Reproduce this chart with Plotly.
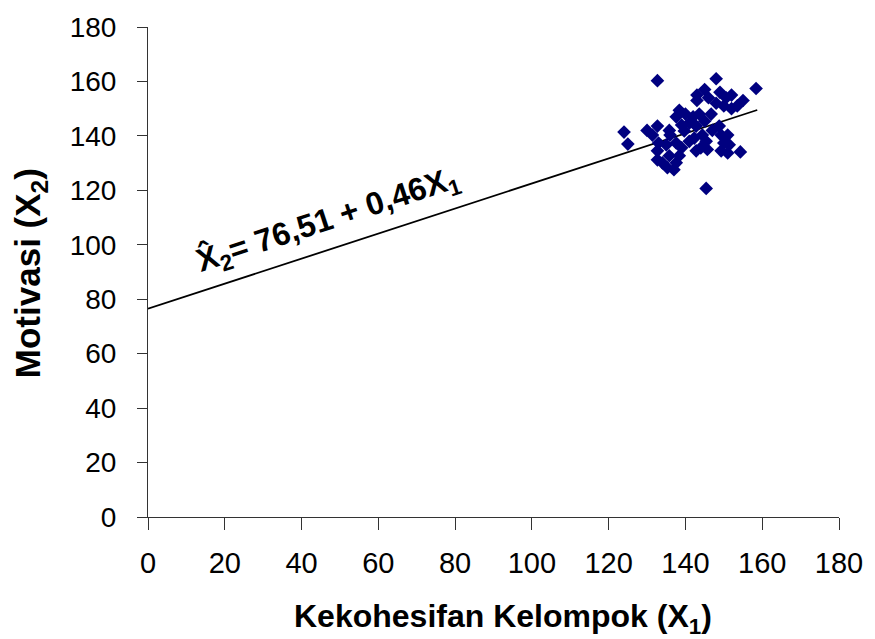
import plotly.graph_objects as go

# Kekohesifan Kelompok (X1) vs Motivasi (X2) observations
x1 = [132.7, 148.0, 158.4, 124.0, 125.0, 145.4, 154.3,
      145.0, 146.0, 143.0, 143.0, 149.0, 152.0, 150.6, 155.0, 153.5,
      148.0, 150.0, 146.7, 152.0, 138.4, 140.0, 142.0, 143.6, 137.6,
      130.0, 132.7, 131.4, 136.0, 139.0, 141.0, 142.8, 145.0, 139.7,
      142.3, 144.4, 147.0, 148.8, 149.3, 151.0, 150.0, 151.4, 149.3,
      151.0, 145.4, 145.7, 142.8, 144.0, 133.0, 135.0, 137.6, 132.7,
      132.7, 134.0, 135.3, 137.0, 137.6, 138.4, 135.8, 139.0, 141.0,
      135.8]
x2 = [160.3, 161.0, 157.4, 141.4, 137.0, 120.7, 134.1,
      157.0, 154.0, 155.0, 153.0, 156.0, 155.0, 154.0, 153.0, 151.0,
      152.0, 151.0, 148.0, 150.0, 149.4, 148.0, 147.0, 148.0, 147.0,
      142.0, 143.6, 140.3, 140.3, 144.0, 144.7, 143.6, 145.4, 141.8,
      139.2, 140.3, 142.0, 143.6, 140.3, 140.3, 137.4, 136.7, 134.5,
      133.7, 138.0, 135.0, 134.5, 135.6, 137.4, 136.7, 137.4, 134.5,
      131.2, 130.1, 128.3, 127.6, 130.1, 132.7, 132.7, 135.6, 138.0,
      142.0]

# Fitted regression X2 = a + b * X1
intercept = 76.51
slope = 0.46
fit_x = [0, 158.7]
fit_y = [intercept + slope * v for v in fit_x]

x_ticks = list(range(0, 181, 20))
y_ticks = list(range(0, 181, 20))

font_family = "Liberation Sans, Arial, sans-serif"

fig = go.Figure()
fig.add_trace(go.Scatter(
    x=fit_x, y=fit_y, mode="lines",
    line=dict(color="black", width=1.8),
    hoverinfo="skip", showlegend=False,
))
fig.add_trace(go.Scatter(
    x=x1, y=x2, mode="markers",
    marker=dict(symbol="diamond", size=10.5, color="#000080",
                line=dict(width=0)),
    showlegend=False,
))

# regression equation written along the fitted line
fig.add_annotation(
    x=47.0, y=109, xref="x", yref="y",
    text="<b>X\u0302<sub>2</sub>= 76,51 + 0,46X<sub>1</sub></b>",
    textangle=-18.2, showarrow=False,
    font=dict(family=font_family, size=32, color="black"),
    xanchor="center", yanchor="middle",
)

# axis titles
fig.add_annotation(
    x=504, y=639 - 619, xref="paper", yref="paper",
    text="<b>Kekohesifan Kelompok (X<sub>1</sub>)</b>",
    showarrow=False,
    font=dict(family=font_family, size=32, color="black"),
    xanchor="center", yanchor="middle",
)
fig.add_annotation(
    x=30, y=639 - 271, xref="paper", yref="paper",
    text="<b>Motivasi (X<sub>2</sub>)</b>",
    textangle=-90, showarrow=False,
    font=dict(family=font_family, size=35, color="black"),
    xanchor="center", yanchor="middle",
)

axis_common = dict(
    showgrid=False, zeroline=False, showline=True,
    linecolor="#333333", linewidth=1,
    ticks="outside", tickcolor="#333333", tickwidth=1,
)

fig.update_xaxes(
    range=[0, 180], tickvals=x_ticks, ticklen=12,
    tickfont=dict(family=font_family, size=29, color="black"),
    ticklabelstandoff=8,
    **axis_common,
)
fig.update_yaxes(
    range=[0, 180], tickvals=y_ticks, ticklen=10,
    tickfont=dict(family=font_family, size=28, color="black"),
    ticklabelstandoff=15,
    **axis_common,
)

fig.update_layout(
    width=875, height=639,
    margin=dict(l=148, r=35, t=23, b=122),
    paper_bgcolor="white", plot_bgcolor="white",
)

# annotation coordinates given in pixels are converted to paper fractions
plot_w = 875 - 148 - 35
plot_h = 639 - 23 - 122
for ann in fig.layout.annotations:
    if ann.xref == "paper":
        ann.x = (ann.x - 148) / plot_w
        ann.y = (ann.y - 122) / plot_h

fig.write_html("out.html")
